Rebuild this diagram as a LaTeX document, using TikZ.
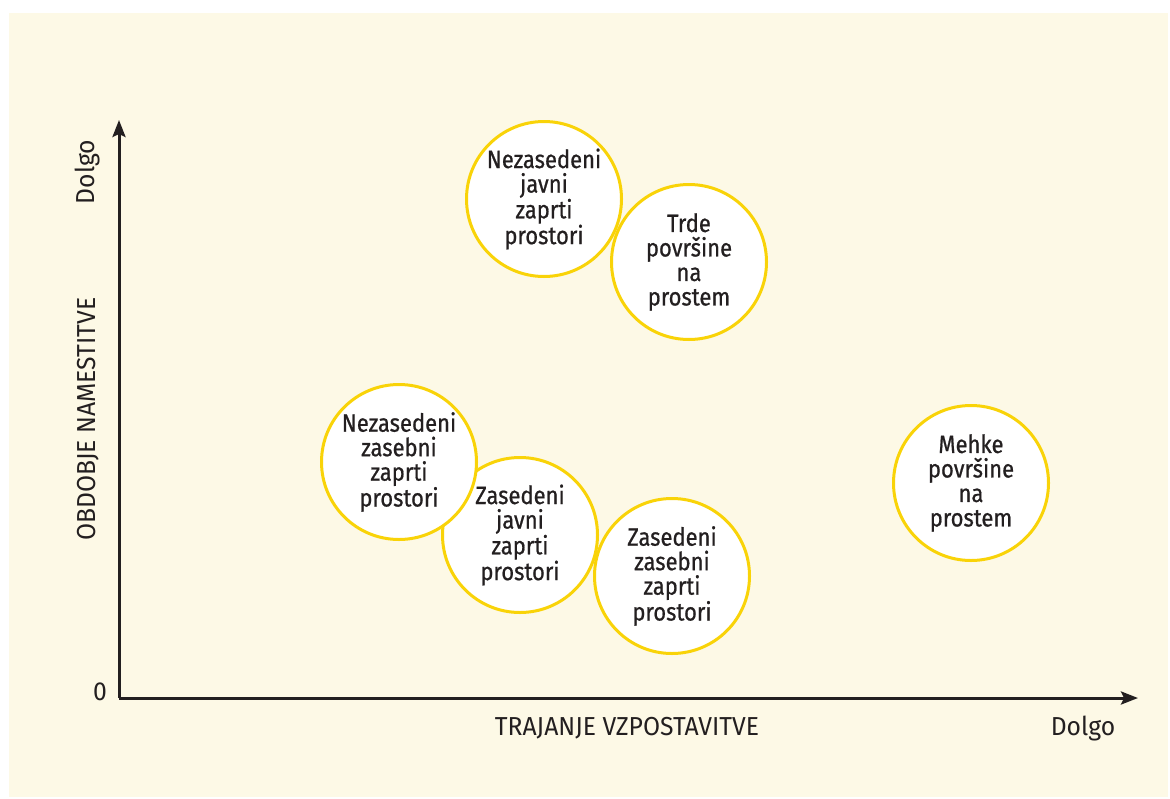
\documentclass[tikz,border=0pt]{standalone}
\usepackage{fontspec}
\setmainfont{Fira Sans}[FakeStretch=0.88, FakeBold=0.7]
\newfontfamily\axisfont{Fira Sans}[FakeStretch=0.95]
\usepackage{tikz}
\usetikzlibrary{arrows.meta}
\definecolor{cream}{HTML}{FDF9E6}
\definecolor{zoneyellow}{HTML}{F9D308}
\definecolor{ink}{HTML}{231F20}
\tikzset{x=1pt, y=-1pt, % one unit per pixel of the reference
zone/.style={ % Sets the properties for each circle
circle,
draw=zoneyellow,
line width=3pt,
fill=white,
minimum size=155pt,
inner sep=0pt,
align=center,
text=ink,
font=\fontsize{25}{24.5}\selectfont},
axislabel/.style={ % Labels along the axes
text=ink,
inner sep=0pt,
font=\axisfont\fontsize{26}{28}\selectfont},
axis/.style={ % Both axes
draw=ink,
line width=3pt,
-{Stealth[length=17pt,width=13pt,inset=3pt]}}}

\begin{document}
\begin{tikzpicture}
					\useasboundingbox (0,0) rectangle (1170,798);
					\fill[cream] (9,13) rectangle (1168,797);

					\coordinate (origin) at (119,698);
					\coordinate (ytip) at (119,120);
					\coordinate (xtip) at (1138,698);

					\draw[axis] (origin) -- (ytip);
					\draw[axis] (origin) -- (xtip);

					\node[axislabel, rotate=90] (ylong) at (88,172) {Dolgo};
					\node[axislabel, rotate=90] (ytitle) at (88,419) {OBDOBJE NAMESTITVE};
					\node[axislabel] (zero) at (100,692) {0};
					\node[axislabel] (xtitle) at (627,728) {TRAJANJE VZPOSTAVITVE};
					\node[axislabel] (xlong) at (1083,729) {Dolgo};

					% \node[zone] (nzj) ... drawn after trde so it lies on top
					\node[zone] (trde) at (689,262) {Trde\\površine\\na\\prostem};
					\node[zone] (nzj) at (544,199) {Nezasedeni\\javni\\zaprti\\prostori};

					\node[zone] (zj) at (520,535) {Zasedeni\\javni\\zaprti\\prostori};
					\node[zone] (nzz) at (399,462) {Nezasedeni\\zasebni\\zaprti\\prostori};
					\node[zone] (zz) at (672,576) {Zasedeni\\zasebni\\zaprti\\prostori};

					\node[zone] (mehke) at (971,483) {Mehke\\površine\\na\\prostem};
				\end{tikzpicture}
\end{document}
